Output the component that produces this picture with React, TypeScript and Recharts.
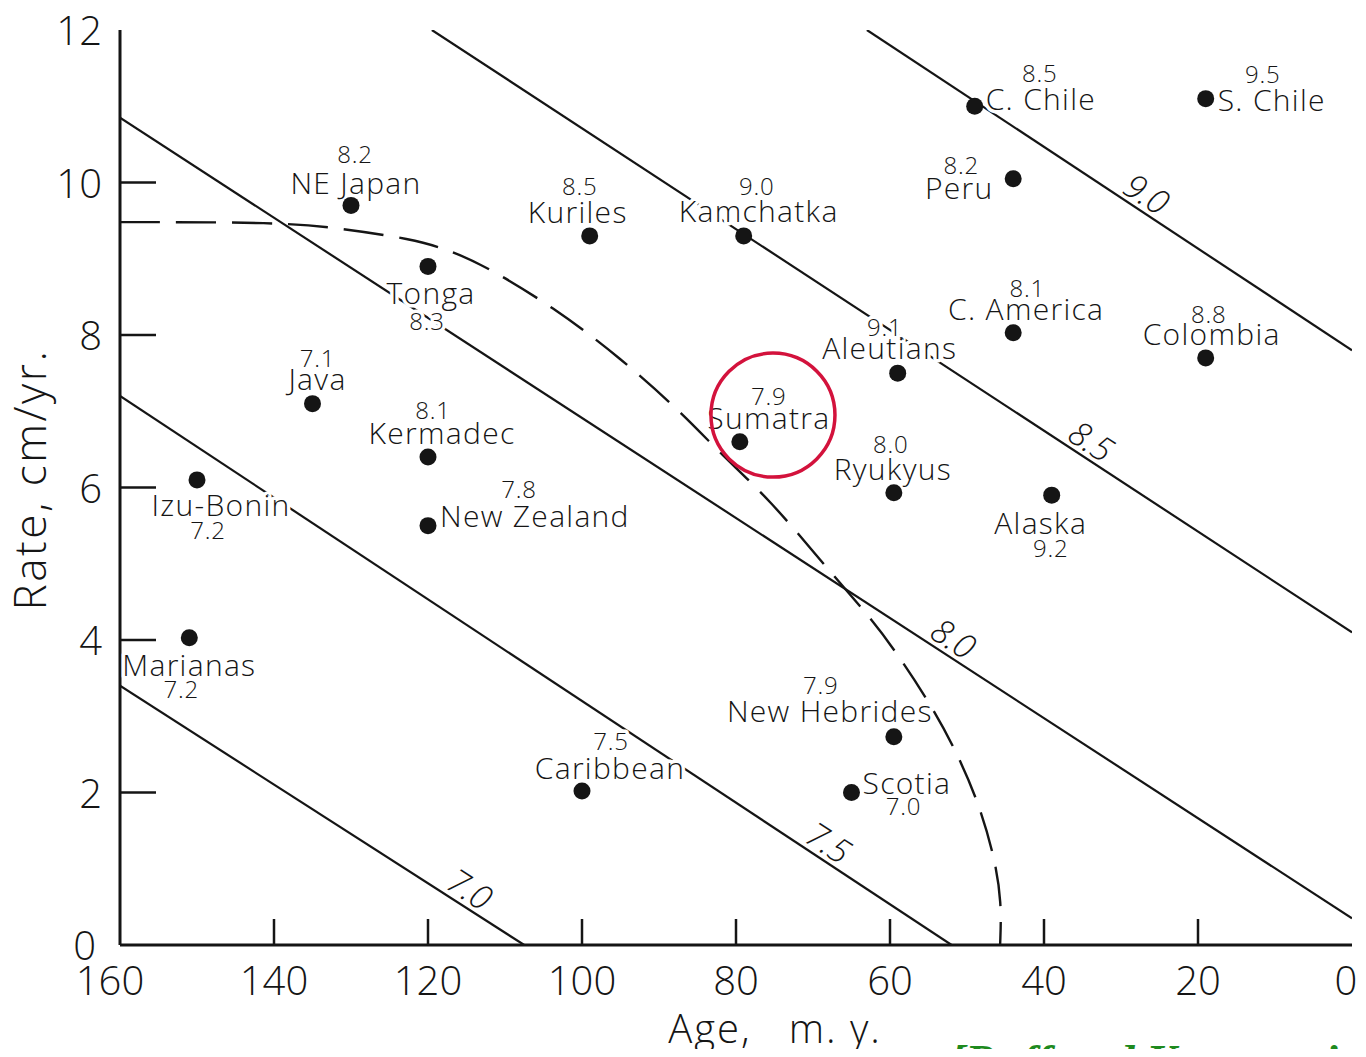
import React from 'react';
import { ComposedChart, XAxis, YAxis, Line, Scatter, ReferenceDot } from 'recharts';

// ---- Data ----
const zoneNames = ['NE Japan', 'Kuriles', 'Kamchatka', 'C. Chile', 'S. Chile', 'Peru', 'Tonga', 'C. America', 'Colombia', 'Aleutians', 'Java', 'Sumatra', 'Kermadec', 'Izu-Bonin', 'Ryukyus', 'Alaska', 'New Zealand', 'Marianas', 'New Hebrides', 'Scotia', 'Caribbean'];
const zoneAges = [130, 99, 79, 49, 19, 44, 120, 44, 19, 59, 135, 79.5, 120, 150, 59.5, 39, 120, 151, 59.5, 65, 100];
const zoneRates = [9.7, 9.3, 9.3, 11.0, 11.1, 10.05, 8.9, 8.03, 7.7, 7.5, 7.1, 6.6, 6.4, 6.1, 5.93, 5.9, 5.5, 4.03, 2.73, 2.0, 2.02];
const zoneMags = ['8.2', '8.5', '9.0', '8.5', '9.5', '8.2', '8.3', '8.1', '8.8', '9.1', '7.1', '7.9', '8.1', '7.2', '8.0', '9.2', '7.8', '7.2', '7.9', '7.0', '7.5'];

const contourLevels = ['7.0', '7.5', '8.0', '8.5', '9.0'];
const contourStarts = [[160, 3.4], [160, 7.2], [160, 10.85], [119.5, 12], [63, 12]];
const contourEnds = [[107.5, 0], [52, 0], [0, 0.35], [0, 4.1], [0, 7.8]];
const contourLabelAges = [115.8, 69.2, 53, 35.1, 27.9];
const contourLabelRates = [0.54, 1.15, 3.83, 6.42, 9.66];

const boundaryAges = [160, 139.2, 131.4, 122.1, 117.1, 112.3, 103.8, 95.1, 86.4, 82.1, 75.6, 69.1, 62.6, 59.4, 54.8, 51.6, 48.6, 46.4, 45.5, 45.7];
const boundaryRates = [9.48, 9.48, 9.40, 9.26, 9.11, 8.89, 8.37, 7.71, 6.92, 6.45, 5.84, 5.05, 4.30, 3.87, 3.17, 2.58, 1.90, 1.15, 0.55, 0];

const xTicks = [0, 20, 40, 60, 80, 100, 120, 140, 160];
const yTicks = [0, 2, 4, 6, 8, 10, 12];
const highlightAge = 75.2;
const highlightRate = 6.95;

// ---- Label layout (pixel offsets relative to the dot) ----
type Lay = { nx: number; ny: number; na: 'start' | 'middle' | 'end'; mx: number; my: number };
const layout: Record<string, Lay> = {
  'NE Japan': { nx: 5, ny: -11, na: 'middle', mx: 4, my: -42 },
  'Kuriles': { nx: -12, ny: -13, na: 'middle', mx: -10, my: -41 },
  'Kamchatka': { nx: 15, ny: -14, na: 'middle', mx: 13, my: -41 },
  'C. Chile': { nx: 11, ny: 4, na: 'start', mx: 65, my: -24 },
  'S. Chile': { nx: 12, ny: 12, na: 'start', mx: 57, my: -16 },
  'Peru': { nx: -54, ny: 20, na: 'middle', mx: -52, my: -5 },
  'Tonga': { nx: 3, ny: 38, na: 'middle', mx: -1, my: 64 },
  'C. America': { nx: 13, ny: -13, na: 'middle', mx: 14, my: -36 },
  'Colombia': { nx: 6, ny: -13, na: 'middle', mx: 3, my: -35 },
  'Aleutians': { nx: -8, ny: -14, na: 'middle', mx: -13, my: -37 },
  'Java': { nx: 5, ny: -14, na: 'middle', mx: 5, my: -37 },
  'Sumatra': { nx: 29, ny: -13, na: 'middle', mx: 29, my: -37 },
  'Kermadec': { nx: 14, ny: -13, na: 'middle', mx: 5, my: -38 },
  'Izu-Bonin': { nx: 24, ny: 36, na: 'middle', mx: 11, my: 59 },
  'Ryukyus': { nx: -1, ny: -13, na: 'middle', mx: -3, my: -40 },
  'Alaska': { nx: -11, ny: 39, na: 'middle', mx: -1, my: 62 },
  'New Zealand': { nx: 12, ny: 1, na: 'start', mx: 91, my: -28 },
  'Marianas': { nx: 0, ny: 38, na: 'middle', mx: -8, my: 60 },
  'New Hebrides': { nx: -64, ny: -15, na: 'middle', mx: -73, my: -43 },
  'Scotia': { nx: 11, ny: 1, na: 'start', mx: 52, my: 22 },
  'Caribbean': { nx: 28, ny: -12, na: 'middle', mx: 29, my: -41 },
};

const FONT = "'Open Sans', 'DejaVu Sans', sans-serif";
const INK = '#151515';

const zoneData = zoneNames.map((name, i) => ({ name, age: zoneAges[i], rate: zoneRates[i], mag: zoneMags[i] }));
const contourData = contourLevels.map((level, i) => ([
  { age: contourStarts[i][0], rate: contourStarts[i][1] },
  { age: contourEnds[i][0], rate: contourEnds[i][1] },
]));
const contourLabelData = contourLevels.map((level, i) => ({ level, age: contourLabelAges[i], rate: contourLabelRates[i] }));
const boundaryData = boundaryAges.map((age, i) => ({ age, rate: boundaryRates[i] }));

const halo = { stroke: '#fff', strokeWidth: 7, paintOrder: 'stroke' as const, strokeLinejoin: 'round' as const };

const ZoneShape = (props: any) => {
  const { cx, cy, payload } = props;
  const l = layout[payload.name];
  return (
    <g>
      <text x={cx + l.nx} y={cy + l.ny} textAnchor={l.na} fontFamily={FONT} fontWeight={300} fontSize={30} letterSpacing={1.3} fill={INK} {...halo}>{payload.name}</text>
      <text x={cx + l.mx} y={cy + l.my} textAnchor="middle" fontFamily={FONT} fontWeight={300} fontSize={24} letterSpacing={0.8} fill={INK} {...halo}>{payload.mag}</text>
      <circle cx={cx} cy={cy} r={8.5} fill={INK} />
    </g>
  );
};

const ContourLabel = (props: any) => {
  const { cx, cy, payload } = props;
  return (
    <text x={cx} y={cy - 5} transform={`rotate(33 ${cx} ${cy})`} textAnchor="middle" fontFamily={FONT} fontWeight={300} fontStyle="italic" fontSize={34} fill={INK}>{payload.level}</text>
  );
};

const BottomTick = (props: any) => {
  const { x, y, payload } = props;
  const v = payload.value;
  const shift = v === 160 ? -10 : v === 0 ? -6 : 0;
  return (
    <g>
      {v !== 0 && v !== 160 && <line x1={x} x2={x} y1={y} y2={y - 26} stroke={INK} strokeWidth={2.5} />}
      <text x={x + shift} y={y + 50} textAnchor="middle" fontFamily={FONT} fontWeight={300} fontSize={40} fill={INK}>{v}</text>
    </g>
  );
};

const TopTick = (props: any) => {
  const { x, y } = props;
  return <line x1={x} x2={x} y1={y} y2={y + 26} stroke={INK} strokeWidth={2.5} />;
};

const LeftTick = (props: any) => {
  const { x, y, payload } = props;
  const v = payload.value;
  return (
    <g>
      {v !== 0 && v !== 12 && <line x1={x} x2={x + 36} y1={y} y2={y} stroke={INK} strokeWidth={2.5} />}
      <text x={x - (v === 0 ? 24 : 18)} y={y + 15} textAnchor="end" fontFamily={FONT} fontWeight={300} fontSize={40} fill={INK}>{v}</text>
    </g>
  );
};

const RightTick = (props: any) => {
  const { x, y } = props;
  return <line x1={x} x2={x - 40} y1={y} y2={y} stroke={INK} strokeWidth={2.5} />;
};

const XTitle = (props: any) => {
  const vb = props.viewBox || {};
  return (
    <text x={vb.x + vb.width / 2 + 39} y={vb.y + 98} textAnchor="middle" fontFamily={FONT} fontWeight={300} fontSize={40} letterSpacing={2} fill={INK}>
      {'Age,\u00A0\u00A0\u00A0m.\u00A0y.'}
    </text>
  );
};

const YTitle = (props: any) => {
  const vb = props.viewBox || {};
  const cx = vb.x + 6;
  const cy = vb.y + vb.height / 2 - 8;
  return (
    <text x={cx} y={cy} transform={`rotate(-90 ${cx} ${cy})`} textAnchor="middle" fontFamily={FONT} fontWeight={300} fontSize={44} letterSpacing={2.5} fill={INK}>
      Rate, cm/yr.
    </text>
  );
};

export default function App() {
  return (
    <div style={{ position: 'relative', width: 1358, height: 1049, marginBottom: -8, overflow: 'hidden', background: '#fff' }}>
      <ComposedChart width={1358} height={1049} margin={{ top: 22, right: 14, left: 32, bottom: 2 }}>
        <XAxis xAxisId="b" dataKey="age" type="number" domain={[0, 160]} reversed ticks={xTicks} interval={0}
          orientation="bottom" height={110} tickSize={0} tickMargin={0} tickLine={false}
          axisLine={{ stroke: INK, strokeWidth: 3 }} tick={<BottomTick />} label={<XTitle />} allowDataOverflow />
        <XAxis xAxisId="t" dataKey="age" type="number" domain={[0, 160]} reversed ticks={[20, 40, 60, 80, 100, 120, 140]} interval={0}
          orientation="top" height={0} tickSize={0} tickMargin={0} tickLine={false}
          axisLine={{ stroke: INK, strokeWidth: 3 }} tick={<TopTick />} allowDataOverflow />
        <YAxis yAxisId="l" dataKey="rate" type="number" domain={[0, 12]} ticks={yTicks} interval={0}
          orientation="left" width={80} tickSize={0} tickMargin={0} tickLine={false}
          axisLine={{ stroke: INK, strokeWidth: 3 }} tick={<LeftTick />} label={<YTitle />} allowDataOverflow />
        <YAxis yAxisId="r" dataKey="rate" type="number" domain={[0, 12]} ticks={[2, 4, 6, 8, 10]} interval={0}
          orientation="right" width={0} tickSize={0} tickMargin={0} tickLine={false}
          axisLine={{ stroke: INK, strokeWidth: 3 }} tick={<RightTick />} allowDataOverflow />

        {contourData.map((d, i) => (
          <Line key={contourLevels[i]} xAxisId="b" yAxisId="l" data={d} dataKey="rate" type="linear"
            stroke={INK} strokeWidth={2.2} dot={false} activeDot={false} isAnimationActive={false} />
        ))}
        <Line xAxisId="b" yAxisId="l" data={boundaryData} dataKey="rate" type="basis"
          stroke={INK} strokeWidth={2.4} strokeDasharray="40 16" dot={false} activeDot={false} isAnimationActive={false} />
        <Scatter xAxisId="b" yAxisId="l" data={contourLabelData} dataKey="rate" shape={<ContourLabel />} isAnimationActive={false} />
        <Scatter xAxisId="b" yAxisId="l" data={zoneData} dataKey="rate" shape={<ZoneShape />} isAnimationActive={false} />
        <ReferenceDot xAxisId="b" yAxisId="l" x={highlightAge} y={highlightRate} r={62} fill="none" stroke="#d3123c" strokeWidth={3.5} />
      </ComposedChart>
      <div style={{ position: 'absolute', left: 942, top: 1031, fontFamily: "'Liberation Serif', serif", fontWeight: 700, fontStyle: 'italic', fontSize: 46, lineHeight: '46px', color: '#1e8a1e', whiteSpace: 'nowrap' }}>
        [Ruff and Kanamori, 1980]
      </div>
    </div>
  );
}
